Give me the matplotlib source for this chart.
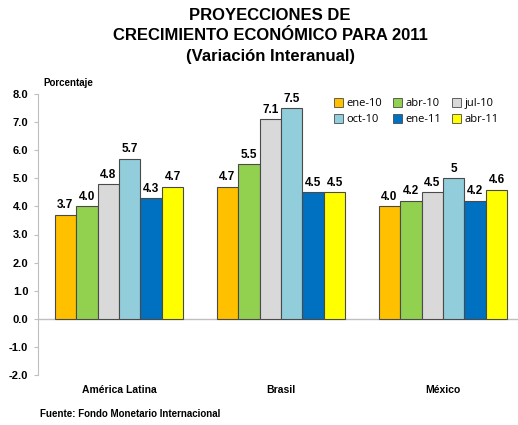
import numpy as np
import matplotlib
matplotlib.use("Agg")
import matplotlib.pyplot as plt
from matplotlib.patches import Patch

plt.rcParams['font.family'] = ['Liberation Sans', 'DejaVu Sans']

# datos
regiones = ["América Latina", "Brasil", "México"]
series = ["ene-10", "abr-10", "jul-10", "oct-10", "ene-11", "abr-11"]
valores = [
    [3.7, 4.7, 4.0],   # ene-10
    [4.0, 5.5, 4.2],   # abr-10
    [4.8, 7.1, 4.5],   # jul-10
    [5.7, 7.5, 5.0],   # oct-10
    [4.3, 4.5, 4.2],   # ene-11
    [4.7, 4.5, 4.6],   # abr-11
]
etiquetas = [
    ["3.7", "4.7", "4.0"],
    ["4.0", "5.5", "4.2"],
    ["4.8", "7.1", "4.5"],
    ["5.7", "7.5", "5"],
    ["4.3", "4.5", "4.2"],
    ["4.7", "4.5", "4.6"],
]
colores = ["#FFC000", "#92D050", "#D9D9D9", "#92CDDC", "#0070C0", "#FFFF00"]
yticks = np.arange(-2.0, 8.01, 1.0)

fig = plt.figure(figsize=(5.18, 4.25), dpi=100)
W, H = 518, 425
ax = fig.add_axes([38 / W, (H - 375) / H, 486 / W, 281 / H])

x = np.arange(len(regiones))
n = len(series)
ancho = 0.795 / n
for i in range(n):
    pos = x - 0.795 / 2 + ancho * (i + 0.5)
    ax.bar(pos, valores[i], ancho, color=colores[i], edgecolor="#4a4a4a",
           linewidth=0.8, zorder=3)
    for px, v, t in zip(pos, valores[i], etiquetas[i]):
        ax.text(px, v + 0.12, t, ha="center", va="bottom", fontsize=8.5,
                fontweight="bold", zorder=4)

ax.set_xlim(-0.5, len(regiones) - 0.5)
ax.set_ylim(-2.0, 8.0)
ax.set_yticks(yticks)
ax.set_yticklabels(["%.1f" % t for t in yticks], fontsize=8, fontweight="bold")
ax.axhline(0, color="#bfbfbf", linewidth=1.0, zorder=2)
ax.set_xticks(x)
ax.set_xticklabels(regiones, fontsize=7.5, fontweight="bold")
ax.tick_params(axis="x", length=0, pad=7)
ax.tick_params(axis="y", length=3, color="#bfbfbf", pad=4)
for s in ["top", "right", "bottom"]:
    ax.spines[s].set_visible(False)
ax.spines["left"].set_color("#bfbfbf")
ax.patch.set_alpha(0)

# leyenda por filas: matplotlib llena por columnas, asi que se reordena
orden = [0, 3, 1, 4, 2, 5]
handles = [Patch(facecolor=colores[k], edgecolor="#4a4a4a", linewidth=0.6) for k in orden]
fig.legend(handles, [series[k] for k in orden], loc="upper left",
           bbox_to_anchor=(324 / W, 1 - 88 / H),
           ncol=3, frameon=False, handlelength=0.8, handleheight=0.8,
           handletextpad=0.3, columnspacing=1.0, labelspacing=0.45,
           prop={"family": ["Open Sans", "DejaVu Sans"], "size": 8})

fig.text(270 / W, 1 - 15 / H, "PROYECCIONES DE", ha="center", va="center",
         fontsize=12, fontweight="bold")
fig.text(270 / W, 1 - 36 / H, "CRECIMIENTO ECONÓMICO PARA 2011", ha="center",
         va="center", fontsize=12, fontweight="bold")
fig.text(270 / W, 1 - 57 / H, "(Variación Interanual)", ha="center", va="center",
         fontsize=12, fontweight="bold")
fig.text(43 / W, 1 - 83 / H, "Porcentaje", ha="left", va="center", fontsize=7,
         fontweight="bold")
fig.text(40 / W, 1 - 414 / H, "Fuente: Fondo Monetario Internacional", ha="left",
         va="center", fontsize=7, fontweight="bold")

fig.savefig("out.png", dpi=100)
